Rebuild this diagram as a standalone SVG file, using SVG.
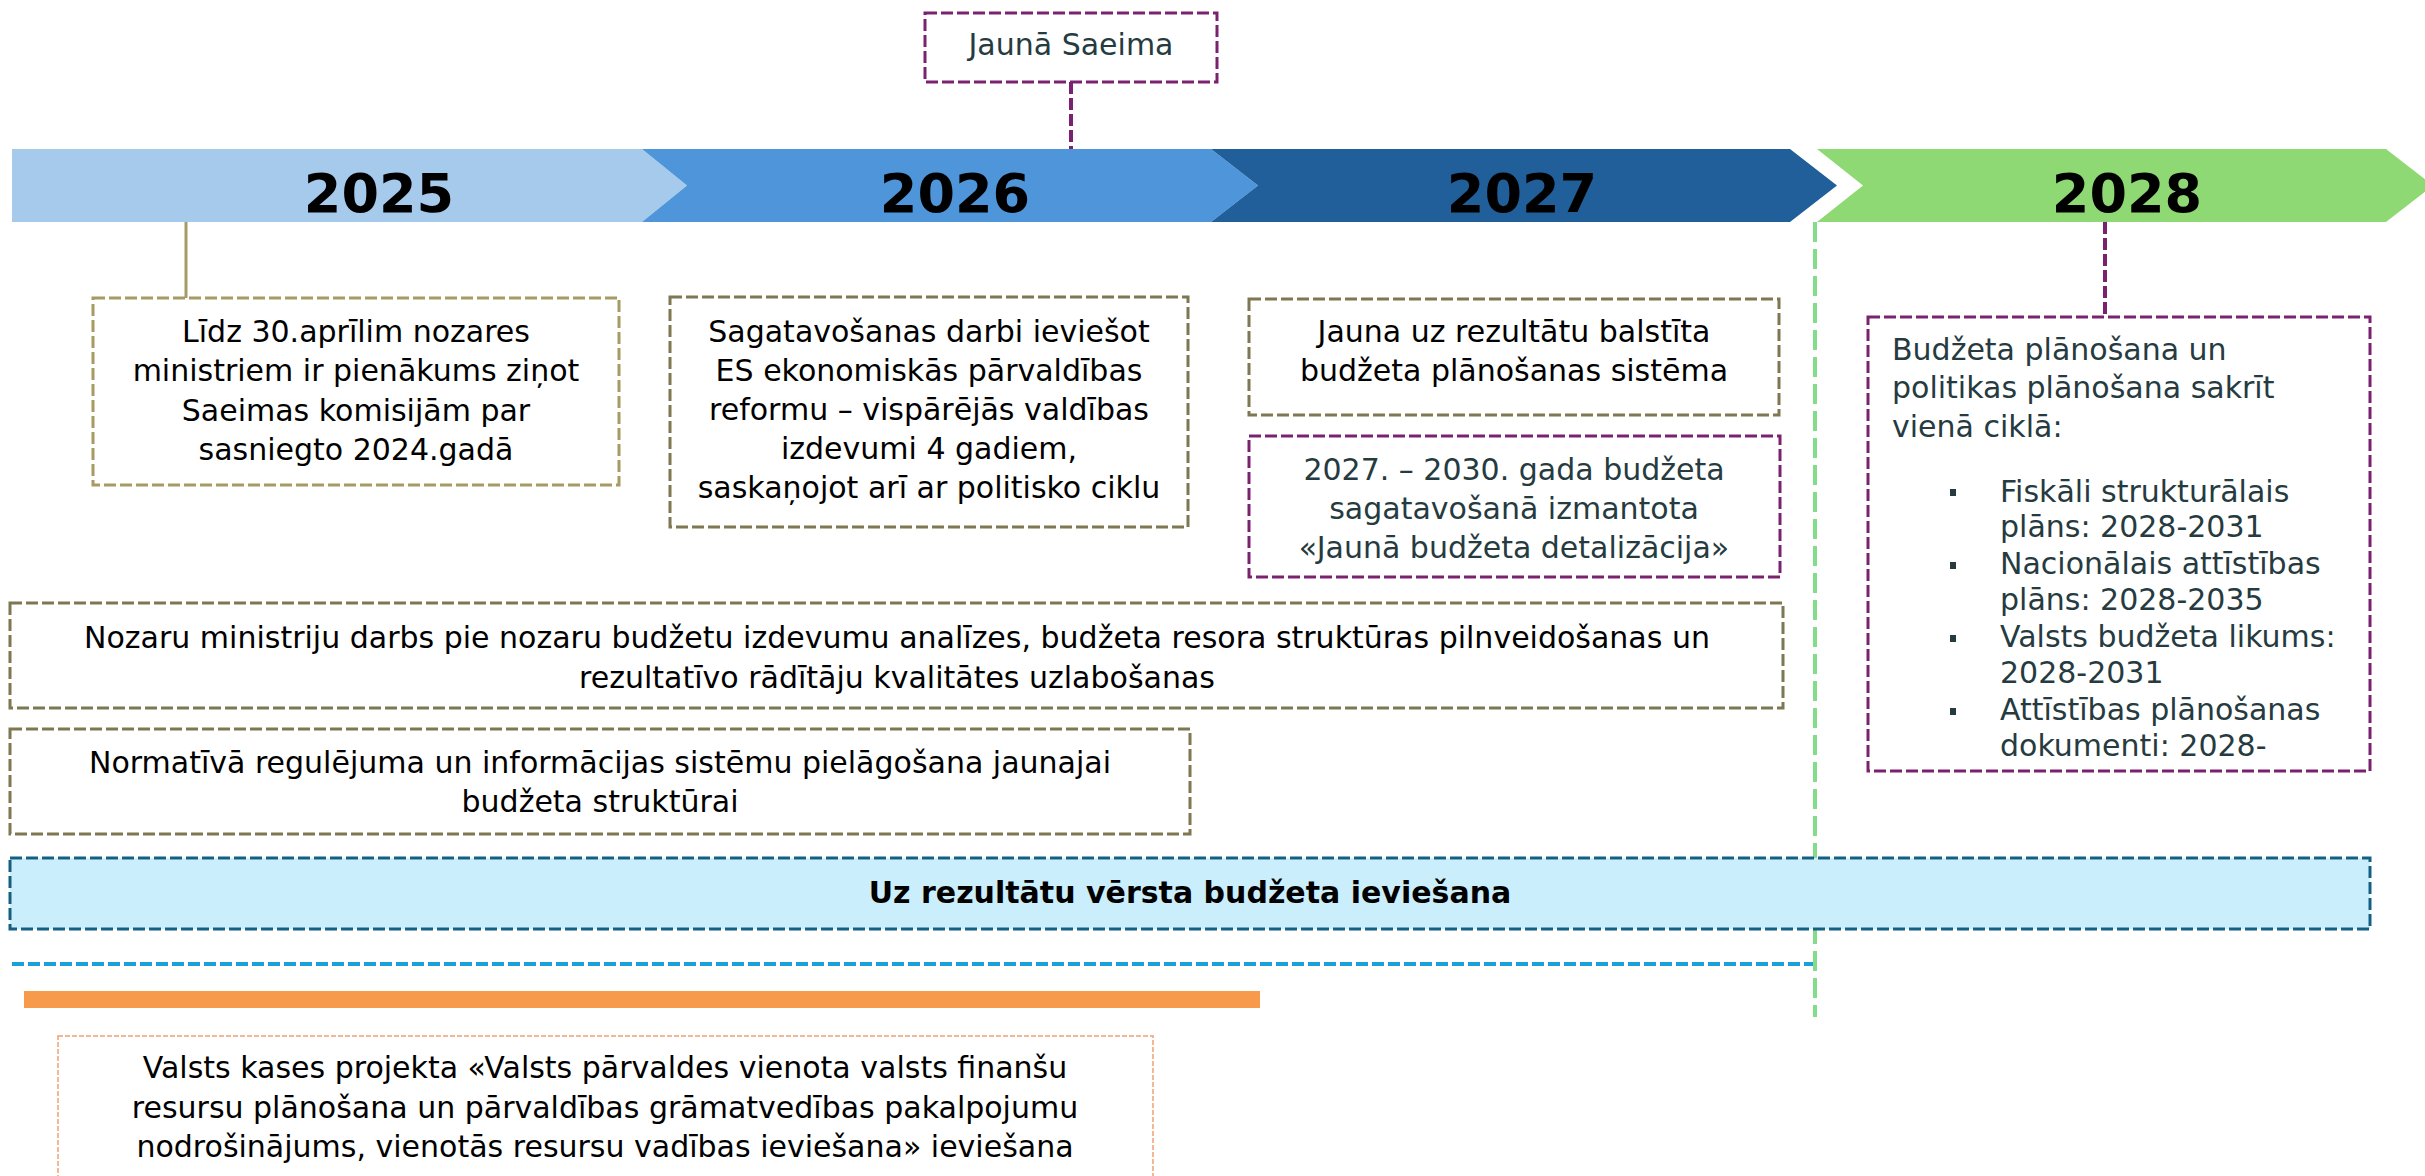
<svg xmlns="http://www.w3.org/2000/svg" width="2425" height="1176" viewBox="0 0 2425 1176">
<style>
.t{font-family:"DejaVu Sans",Verdana,sans-serif;font-size:30px;fill:#000}
.c{text-anchor:middle}
.s{fill:#263B3F}
.b{font-weight:bold}
.yr{font-family:"DejaVu Sans",Verdana,sans-serif;font-size:54px;font-weight:bold;fill:#000;text-anchor:middle}
.ol{fill:#fff;stroke:#7F7652;stroke-width:3;stroke-dasharray:12 4}
.ol2{fill:#fff;stroke:#A69B63;stroke-width:3;stroke-dasharray:12 4}
.pu{fill:#fff;stroke:#7A2270;stroke-width:3;stroke-dasharray:12 4}
.bl{fill:#CAEEFB;stroke:#156082;stroke-width:3;stroke-dasharray:12 4}
.or{fill:#fff;stroke:#F0A070;stroke-width:1.5;stroke-dasharray:5 2}
</style>
<rect width="2425" height="1176" fill="#fff"/>
<g id="timeline">
<g id="y2025"><polygon points="12,149 642,149 687,185.5 642,222 12,222" fill="#A6CAEC"/><text class="yr" x="379" y="212">2025</text></g>
<g id="y2026"><polygon points="642,149 1211,149 1258,185.5 1211,222 642,222 687,185.5" fill="#4E95D9"/><text class="yr" x="955" y="212">2026</text></g>
<g id="y2027"><polygon points="1211,149 1790,149 1837,185.5 1790,222 1211,222 1258,185.5" fill="#215F9A"/><text class="yr" x="1522" y="212">2027</text></g>
<g id="y2028"><polygon points="1817,149 2386,149 2433,185.5 2386,222 1817,222 1863,185.5" fill="#8ED973"/><text class="yr" x="2127" y="212">2028</text></g>
</g>
<g id="connectors">
<line x1="1071" y1="82" x2="1071" y2="149" stroke="#7A2270" stroke-width="4" stroke-dasharray="12 4"/>
<line x1="186" y1="222" x2="186" y2="298" stroke="#A69B63" stroke-width="3"/>
<line x1="2105" y1="222" x2="2105" y2="317" stroke="#7A2270" stroke-width="4" stroke-dasharray="12 4"/>
<line x1="1815" y1="222" x2="1815" y2="1017" stroke="#82DC8C" stroke-width="4" stroke-dasharray="20 7"/>
</g>
<g id="saeima"><rect class="pu" x="925" y="13" width="292" height="69"/><text class="t s c" x="1071" y="55">Jaunā Saeima</text></g>
<g id="box1"><rect class="ol2" x="93" y="298" width="526" height="187"/>
<text class="t c" x="356" y="342">Līdz 30.aprīlim nozares</text>
<text class="t c" x="356" y="381">ministriem ir pienākums ziņot</text>
<text class="t c" x="356" y="421">Saeimas komisijām par</text>
<text class="t c" x="356" y="460">sasniegto 2024.gadā</text></g>
<g id="box2"><rect class="ol" x="670" y="297" width="518" height="230"/>
<text class="t c" x="929" y="342">Sagatavošanas darbi ieviešot</text>
<text class="t c" x="929" y="381">ES ekonomiskās pārvaldības</text>
<text class="t c" x="929" y="420">reformu – vispārējās valdības</text>
<text class="t c" x="929" y="459">izdevumi 4 gadiem,</text>
<text class="t c" x="929" y="498">saskaņojot arī ar politisko ciklu</text></g>
<g id="box3"><rect class="ol" x="1249" y="299" width="530" height="116"/>
<text class="t c" x="1514" y="342">Jauna uz rezultātu balstīta</text>
<text class="t c" x="1514" y="381">budžeta plānošanas sistēma</text></g>
<g id="box4"><rect class="pu" x="1249" y="436" width="531" height="141"/>
<text class="t s c" x="1514" y="480">2027. – 2030. gada budžeta</text>
<text class="t s c" x="1514" y="519">sagatavošanā izmantota</text>
<text class="t s c" x="1514" y="558">«Jaunā budžeta detalizācija»</text></g>
<g id="box5"><rect class="pu" x="1868" y="317" width="502" height="454"/>
<text class="t s" x="1892" y="360">Budžeta plānošana un</text>
<text class="t s" x="1892" y="398">politikas plānošana sakrīt</text>
<text class="t s" x="1892" y="437">vienā ciklā:</text>
<g fill="#263B3F"><rect x="1950" y="489" width="6" height="7"/><rect x="1950" y="562" width="6" height="7"/><rect x="1950" y="635" width="6" height="7"/><rect x="1950" y="708" width="6" height="7"/></g>
<text class="t s" x="2000" y="502">Fiskāli strukturālais</text>
<text class="t s" x="2000" y="537">plāns: 2028-2031</text>
<text class="t s" x="2000" y="574">Nacionālais attīstības</text>
<text class="t s" x="2000" y="610">plāns: 2028-2035</text>
<text class="t s" x="2000" y="647">Valsts budžeta likums:</text>
<text class="t s" x="2000" y="683">2028-2031</text>
<text class="t s" x="2000" y="720">Attīstības plānošanas</text>
<text class="t s" x="2000" y="756">dokumenti: 2028-</text></g>
<g id="box6"><rect class="ol" x="10" y="603" width="1773" height="105"/>
<text class="t c" x="897" y="648">Nozaru ministriju darbs pie nozaru budžetu izdevumu analīzes, budžeta resora struktūras pilnveidošanas un</text>
<text class="t c" x="897" y="688">rezultatīvo rādītāju kvalitātes uzlabošanas</text></g>
<g id="box7"><rect class="ol" x="10" y="729" width="1180" height="105"/>
<text class="t c" x="600" y="773">Normatīvā regulējuma un informācijas sistēmu pielāgošana jaunajai</text>
<text class="t c" x="600" y="812">budžeta struktūrai</text></g>
<g id="box8"><rect class="bl" x="10" y="858" width="2360" height="71"/>
<text class="t c b" x="1190" y="903">Uz rezultātu vērsta budžeta ieviešana</text></g>
<g id="lines">
<line x1="12" y1="964" x2="1813" y2="964" stroke="#1BA1DA" stroke-width="4" stroke-dasharray="12 4"/>
<rect x="24" y="991" width="1236" height="17" fill="#F79A4C"/>
</g>
<g id="box9"><rect class="or" x="58" y="1036" width="1095" height="160"/>
<text class="t c" x="605" y="1078">Valsts kases projekta «Valsts pārvaldes vienota valsts finanšu</text>
<text class="t c" x="605" y="1118">resursu plānošana un pārvaldības grāmatvedības pakalpojumu</text>
<text class="t c" x="605" y="1157">nodrošinājums, vienotās resursu vadības ieviešana» ieviešana</text></g>
</svg>
